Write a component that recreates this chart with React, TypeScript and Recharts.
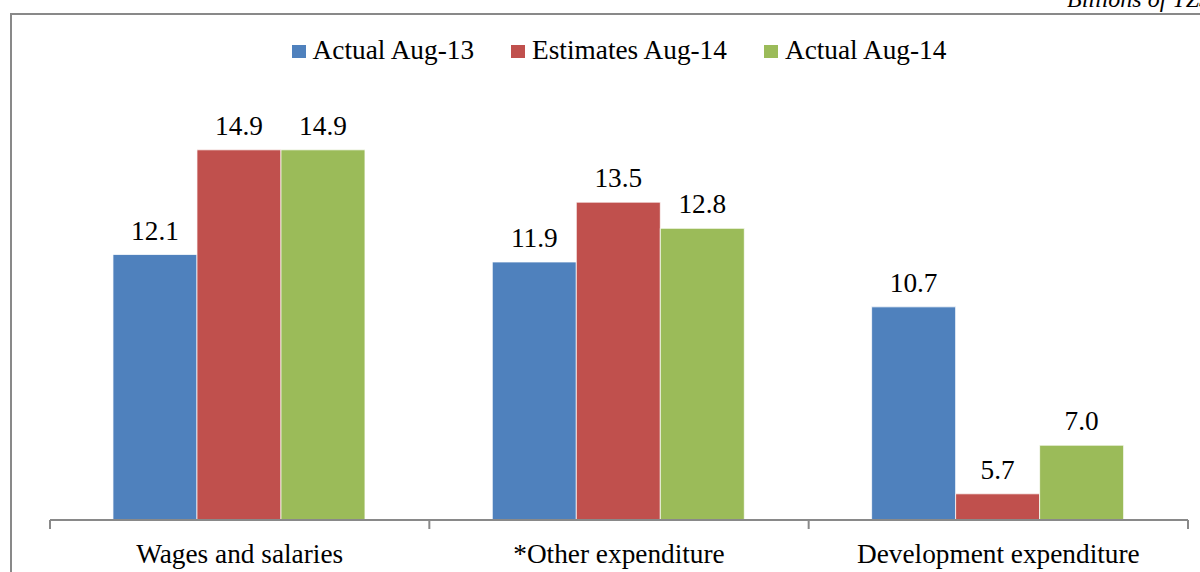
import React from "react";
import { BarChart, Bar, XAxis, YAxis, Legend, LabelList } from "recharts";

const categories = ["Wages and salaries", "*Other expenditure", "Development expenditure"];
const actualAug13 = [12.1, 11.9, 10.7];
const estimatesAug14 = [14.9, 13.5, 5.7];
const actualAug14 = [14.9, 12.8, 7.0];
const seriesNames = ["Actual Aug-13", "Estimates Aug-14", "Actual Aug-14"];
const seriesColors = ["#4F81BD", "#C0504D", "#9BBB59"];
const yDomain: [number, number] = [5, 16];

const data = categories.map((c, i) => ({
  category: c,
  a13: actualAug13[i],
  e14: estimatesAug14[i],
  a14: actualAug14[i],
}));

const FONT = "'Liberation Serif', 'Times New Roman', serif";
const FS = 27.3;
const AXIS_COLOR = "#898989";

const CustomTick = (props: any) => {
  const { x, y, payload, index, visibleTicksCount } = props;
  const half = payload && payload.offset ? payload.offset : 189.7;
  const count = visibleTicksCount || categories.length;
  return (
    <g>
      <line x1={x - half} y1={y} x2={x - half} y2={y + 9} stroke={AXIS_COLOR} strokeWidth={2} />
      {index === count - 1 && (
        <line x1={x + half} y1={y} x2={x + half} y2={y + 9} stroke={AXIS_COLOR} strokeWidth={2} />
      )}
      <text x={x} y={y + 43} textAnchor="middle" fontFamily={FONT} fontSize={FS} fill="#000">
        {payload.value}
      </text>
    </g>
  );
};

const CustomLegend = (props: any) => {
  const payload = [...(props.payload || [])].sort(
    (a: any, b: any) => seriesNames.indexOf(a.value) - seriesNames.indexOf(b.value)
  );
  return (
    <div
      style={{
        height: 73.7,
        display: "flex",
        justifyContent: "center",
        alignItems: "flex-start",
        fontFamily: FONT,
        fontSize: FS,
        lineHeight: "30px",
        color: "#000",
        margin: 0,
        padding: 0,
      }}
    >
      {payload.map((p: any, i: number) => (
        <div
          key={i}
          style={{
            display: "flex",
            alignItems: "center",
            marginRight: i < payload.length - 1 ? 37 : 0,
          }}
        >
          <span
            style={{
              display: "inline-block",
              width: 14,
              height: 13,
              background: p.color,
              marginRight: 7,
              marginTop: 2,
            }}
          />
          <span style={{ whiteSpace: "nowrap" }}>{p.value}</span>
        </div>
      ))}
    </div>
  );
};

export default function App() {
  return (
    <div
      style={{
        position: "absolute",
        left: 0,
        top: 0,
        width: 1200,
        height: 572,
        overflow: "hidden",
        background: "#fff",
      }}
    >
      <div
        style={{
          position: "absolute",
          left: 10,
          top: 13,
          width: 1250,
          height: 650,
          border: `2px solid ${AXIS_COLOR}`,
          boxSizing: "border-box",
        }}
      />
      <div
        style={{
          position: "absolute",
          left: 1067,
          top: -16,
          fontFamily: FONT,
          fontStyle: "italic",
          fontSize: 24,
          lineHeight: "30px",
          whiteSpace: "nowrap",
          color: "#000",
        }}
      >
        Billions of TZS
      </div>
      <div style={{ position: "absolute", left: 0, top: 0 }}>
        <BarChart
          width={1200}
          height={572}
          data={data}
          margin={{ top: 35, right: 12, bottom: 0, left: 50 }}
          barCategoryGap="16.6%"
          barGap={0}
        >
          <Legend verticalAlign="top" align="center" content={<CustomLegend />} />
          <YAxis hide domain={yDomain} allowDataOverflow />
          <XAxis
            dataKey="category"
            height={52}
            axisLine={{ stroke: AXIS_COLOR, strokeWidth: 2 }}
            tickLine={false}
            tickSize={0}
            tickMargin={0}
            interval={0}
            tick={<CustomTick />}
          />
          <Bar dataKey="a13" name={seriesNames[0]} fill={seriesColors[0]} stroke="#ffffff" strokeWidth={0.75} isAnimationActive={false}>
            <LabelList dataKey="a13" position="top" offset={15} fontFamily={FONT} fontSize={FS} fill="#000" formatter={(v: any) => Number(v).toFixed(1)} />
          </Bar>
          <Bar dataKey="e14" name={seriesNames[1]} fill={seriesColors[1]} stroke="#ffffff" strokeWidth={0.75} isAnimationActive={false}>
            <LabelList dataKey="e14" position="top" offset={15} fontFamily={FONT} fontSize={FS} fill="#000" formatter={(v: any) => Number(v).toFixed(1)} />
          </Bar>
          <Bar dataKey="a14" name={seriesNames[2]} fill={seriesColors[2]} stroke="#ffffff" strokeWidth={0.75} isAnimationActive={false}>
            <LabelList dataKey="a14" position="top" offset={15} fontFamily={FONT} fontSize={FS} fill="#000" formatter={(v: any) => Number(v).toFixed(1)} />
          </Bar>
        </BarChart>
      </div>
    </div>
  );
}
